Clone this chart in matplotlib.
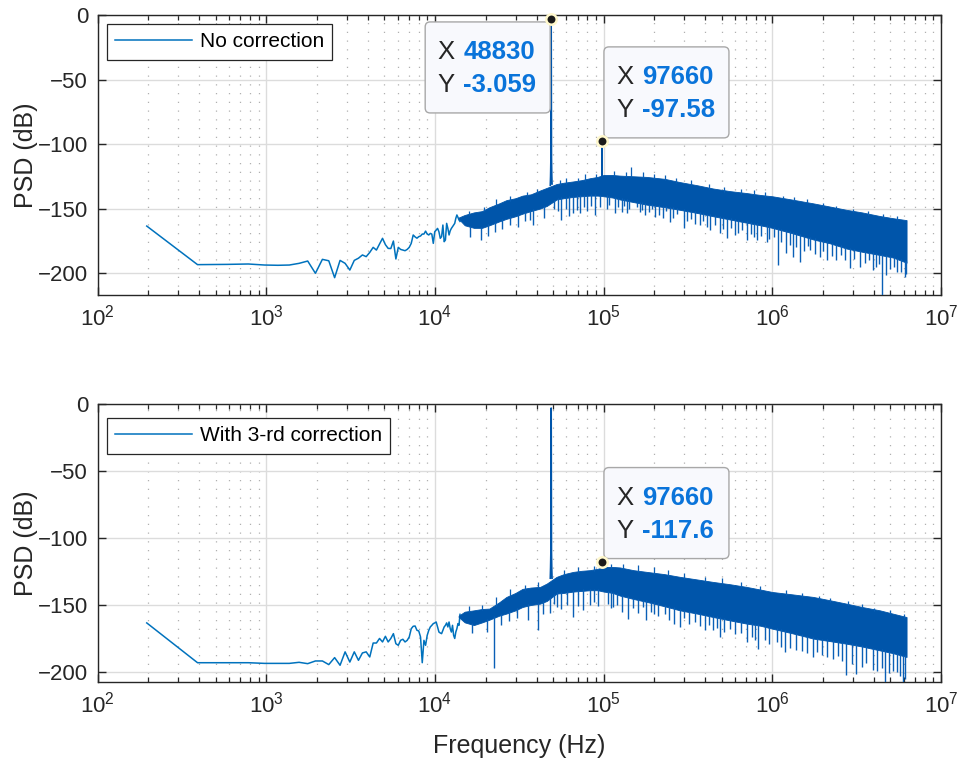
import numpy as np
import matplotlib
matplotlib.use('Agg')
import matplotlib.pyplot as plt
from matplotlib.patches import FancyBboxPatch
from matplotlib.transforms import IdentityTransform
from matplotlib.ticker import LogLocator, NullFormatter

plt.rcParams['font.family'] = ['Liberation Sans', 'DejaVu Sans']
plt.rcParams['mathtext.fontset'] = 'custom'
plt.rcParams['mathtext.rm'] = 'Liberation Sans'

# ---------------- data ----------------
DF = 195.3125                       # frequency bin spacing (Hz)
low_bins = np.arange(1, 73)         # resolvable low-frequency bins

psd_low_nocorr = [
    -163.6, -193.5, -193.3, -193.0, -193.8, -194.0, -193.8, -192.5, -190.7, -200.2,
    -189.4, -190.5, -203.6, -190.2, -192.5, -197.7, -190.2, -188.5, -186.0, -187.3,
    -184.0, -180.1, -182.2, -177.5, -173.1, -178.0, -180.9, -181.0, -175.2, -189.1,
    -180.1, -181.7, -182.2, -182.7, -181.7, -180.1, -177.0, -170.5, -172.0, -173.0,
    -171.8, -171.3, -169.8, -169.8, -167.5, -169.8, -170.5, -169.3, -169.8, -177.0,
    -168.0, -166.7, -165.4, -168.0, -173.1, -171.8, -162.8, -175.7, -174.4, -161.5,
    -165.4, -170.5, -167.2, -165.4, -164.1, -162.8, -161.5, -157.6, -155.0, -156.8,
    -158.9, -160.0]

psd_low_corr = [
    -163.4, -193.1, -193.1, -193.1, -193.6, -193.6, -193.6, -192.8, -193.8, -191.8,
    -191.8, -194.5, -189.3, -195.0, -185.0, -192.6, -185.0, -191.3, -185.8, -185.0,
    -188.8, -178.4, -178.4, -175.0, -177.6, -173.4, -177.6, -175.0, -171.4, -178.9,
    -180.1, -176.4, -175.6, -177.6, -176.4, -173.9, -167.7, -165.9, -165.7, -168.9,
    -169.4, -173.9, -193.1, -176.4, -180.1, -172.7, -168.9, -166.4, -165.2, -163.9,
    -163.4, -162.7, -166.4, -170.2, -170.9, -171.4, -168.9, -166.4, -165.2, -163.4,
    -166.4, -162.7, -167.7, -170.2, -165.2, -172.7, -175.0, -170.2, -167.7, -163.9,
    -165.2, -157.0]

# dense (unresolvable) part of the spectrum: upper and lower envelopes
band_freq = [13.8e3, 15e3, 17e3, 19e3, 21e3, 24e3, 26.5e3, 30e3, 33e3, 37e3,
             42e3, 46e3, 52.6e3, 58e3, 66e3, 74e3, 83e3, 92e3, 100e3, 113e3,
             125e3, 150e3, 180e3, 230e3, 283e3, 360e3, 446e3, 560e3, 703e3, 850e3,
             1.0e6, 1.3e6, 1.75e6, 2.2e6, 2.75e6, 3.4e6, 4.34e6, 5.2e6, 6.25e6]
nocorr_band_hi = [-157, -155, -153, -152, -149, -146, -143.5, -142, -140, -139,
                  -136, -134, -131, -130, -129, -128, -126.5, -125.5, -124, -124,
                  -124.5, -125, -125.5, -127, -129.5, -132, -134.5, -136.5, -138, -139.5,
                  -140.5, -143, -146, -148.5, -151, -153, -155.8, -157.5, -159]
nocorr_band_lo = [-158, -163, -165, -165, -163, -160, -158, -156, -154, -152,
                  -150, -148, -143, -142, -141, -140.5, -140, -140, -140.5, -141.5,
                  -143, -145, -147, -149, -151, -153.5, -156, -158.5, -161, -163,
                  -165, -169, -174, -177, -181, -183.5, -186, -188, -192]
corr_band_hi = [-158, -155, -154, -153, -152.7, -148, -144, -141, -138, -137,
                -136.5, -134, -129, -127, -125.3, -124.5, -124, -123, -121.6, -121.6,
                -122, -124, -125.3, -127, -129, -131, -132.8, -134.5, -136.5, -138.5,
                -140.3, -142, -144, -146.5, -149, -151.5, -154, -156.5, -159]
corr_band_lo = [-159, -163, -165, -163, -161, -158, -156.4, -154, -151.5, -150,
                -149, -147, -141.5, -141, -140, -139.5, -139, -139, -140, -141,
                -143, -145.5, -147.7, -151, -154, -156.5, -159, -161.5, -163.9, -165.5,
                -167.7, -171, -175.1, -177, -178.9, -181, -183.9, -186, -188.8]

# downward excursions below the dense band
nocorr_dip_freq = [16.2e3, 18.7e3, 20.6e3, 22.8e3, 25.1e3, 28.0e3, 31.2e3, 34.0e3, 36.5e3, 38.2e3,
                   44.0e3, 50.8e3, 53.5e3, 56.2e3, 59.5e3, 62.0e3, 65.9e3, 69.0e3, 72.3e3,
                   76.0e3, 79.5e3, 84.5e3, 88.7e3, 95.0e3, 104e3, 108e3, 116e3, 121e3,
                   127.6e3, 132e3, 136.7e3, 142e3, 158e3, 164e3, 169e3, 175e3, 186e3,
                   194e3, 201e3, 212e3, 224e3, 233e3, 247e3, 258e3, 272e3, 299e3, 310e3,
                   330e3, 350e3, 372e3, 390e3, 410e3, 427e3, 460e3, 488e3, 510e3, 535e3,
                   570e3, 600e3, 630e3, 660e3, 703e3, 750e3, 780e3, 806e3, 860e3, 925e3,
                   960e3, 1.02e6, 1.08e6, 1.13e6, 1.21e6, 1.27e6, 1.33e6, 1.39e6, 1.45e6,
                   1.55e6, 1.62e6, 1.67e6, 1.78e6, 1.91e6, 2.0e6, 2.10e6, 2.25e6, 2.40e6,
                   2.55e6, 2.7e6, 2.88e6, 3.05e6, 3.30e6, 3.55e6, 3.75e6, 3.96e6, 4.1e6,
                   4.3e6, 4.48e6, 4.75e6, 5.0e6, 5.25e6, 5.45e6, 5.8e6, 6.10e6, 6.2e6]
nocorr_dip_val = [-172, -174.4, -171, -168, -166, -163, -164, -160, -159, -162.8,
                  -157, -150, -152, -159.0, -150, -156, -153.7, -151, -153.7,
                  -149, -152, -148, -155.0, -149, -150, -147, -153.7, -149,
                  -152.5, -148, -153.7, -150, -149, -152.5, -151, -155.0, -153,
                  -150, -156.3, -155, -157.4, -152, -160.2, -157, -154, -165.4, -160,
                  -158, -162, -162.8, -160, -164, -166.7, -163, -169.2, -166, -173.1,
                  -165, -170.5, -169, -167, -174.4, -170, -172, -174.4, -171, -175.7,
                  -174, -172, -193.8, -176, -184.7, -178, -187.3, -180, -191.2,
                  -183, -179, -182.2, -185, -187.3, -183, -189.9, -187, -190.0,
                  -186, -190, -196.4, -189, -195.1, -192, -190, -197.7, -195,
                  -193, -225.0, -201.6, -197, -195, -199.0, -199, -202.9, -201]
corr_dip_freq = [16.5e3, 20.2e3, 22.4e3, 24.5e3, 27.5e3, 30.5e3, 35.5e3, 40.6e3, 43.5e3, 48.0e3,
                 51.0e3, 52.6e3, 56.0e3, 60.5e3, 66e3, 70.0e3, 75.0e3, 82.8e3, 88.0e3,
                 93.0e3, 106e3, 110e3, 114e3, 120e3, 128e3, 139.6e3, 150e3, 160e3, 171e3,
                 179e3, 190e3, 199e3, 210e3, 230e3, 245e3, 261e3, 283e3, 300e3, 320e3,
                 350e3, 370e3, 398e3, 420e3, 446e3, 470e3, 489e3, 520e3, 560e3, 600e3,
                 650e3, 703e3, 760e3, 790e3, 824e3, 900e3, 960e3, 1.06e6, 1.12e6, 1.19e6,
                 1.28e6, 1.39e6, 1.5e6, 1.6e6, 1.75e6, 1.85e6, 1.96e6, 2.1e6, 2.30e6,
                 2.45e6, 2.6e6, 2.75e6, 2.95e6, 3.15e6, 3.4e6, 3.6e6, 3.96e6, 4.2e6,
                 4.45e6, 4.65e6, 4.9e6, 5.2e6, 5.45e6, 5.7e6, 5.96e6, 6.15e6]
corr_dip_val = [-171, -170, -197.0, -165, -162, -160, -161, -169.0, -157, -156,
                -149, -151.5, -153, -150, -159.0, -151, -154, -149.7, -148,
                -151, -149, -152, -151.5, -150, -155, -160.2, -152, -156, -151.5,
                -161.4, -155, -156.4, -158, -157, -161, -163.9, -166.4, -160, -164,
                -163, -166, -168.9, -165, -168.9, -167, -173.9, -170, -168, -172,
                -171, -177.6, -174, -176, -182.6, -176, -179, -178, -181, -185.1,
                -182, -183.9, -184, -186, -188.8, -185, -187.6, -189, -190.1,
                -188, -192, -202.5, -194, -201.3, -196, -193, -198.8, -199,
                -197, -212.0, -201, -199, -200.0, -203, -212.0, -205]

# upward excursions above the dense band
nocorr_spike_freq = [16e3, 19.5e3, 23e3, 28e3, 35e3, 40e3, 55e3, 60e3, 70e3, 78e3, 90e3,
                     115e3, 135e3, 146e3, 170e3, 200e3, 230e3, 270e3, 330e3, 420e3, 520e3,
                     650e3, 780e3, 900e3, 1.15e6, 1.35e6, 1.6e6, 2.0e6, 2.4e6, 3e6, 3.7e6,
                     4.5e6, 5.5e6]
nocorr_spike_val = [-152, -149, -143, -140, -137, -135, -128, -126, -126, -123, -123,
                    -121, -122, -117.6, -122, -123, -124, -126, -128, -131, -133,
                    -135, -136, -137, -140, -141, -143, -146, -148, -150, -152,
                    -154, -156]
corr_spike_freq = [16e3, 19e3, 23e3, 28e3, 34e3, 41e3, 58e3, 70e3, 88e3, 110e3, 130.7e3,
                   160e3, 200e3, 240e3, 300e3, 400e3, 500e3, 650e3, 850e3, 1.2e6, 1.5e6,
                   1.9e6, 2.2e6, 2.8e6, 3.4e6, 4e6, 5e6, 6e6]
corr_spike_val = [-151, -150, -144, -138, -135, -133, -124, -122, -121, -119.5, -119.5,
                  -120, -122, -124, -126, -129, -130, -133, -136, -139, -141,
                  -143, -145, -147, -149, -152, -154, -157]

# tones
fund_bins = np.arange(247, 254)
nocorr_fund_val = [-132, -125, -112, -3.059, -110, -124, -131]
corr_fund_val = [-130, -122, -110, -3.06, -110, -123, -130]
harm_bins = np.arange(499, 502)
nocorr_harm_val = [-126, -97.58, -126]
corr_harm_val = [-125, -117.6, -125]

# data tips: (frequency, value, x text, y text, placement)
nocorr_tips = [(48830, -3.059, '48830', '-3.059', 'lower left'),
               (97660, -97.58, '97660', '-97.58', 'upper right')]
corr_tips = [(97660, -117.6, '97660', '-117.6', 'upper right')]

xticks = [1e2, 1e3, 1e4, 1e5, 1e6, 1e7]
yticks = [-200, -150, -100, -50, 0]

# ---------------- styling ----------------
LINE = '#0072BD'
BAND = '#0055AA'
DIP = '#0A5FB6'
AXC = '#262626'

fig = plt.figure(figsize=(9.6, 7.61), dpi=100)
ax1 = fig.add_axes([0.1018, 0.6124, 0.8784, 0.3679])
ax2 = fig.add_axes([0.1018, 0.1038, 0.8784, 0.3653])


def draw_panel(ax, low, bhi, blo, dipf, dipv, spf, spv, fundv, harmv, ylim, label, legy):
    ax.set_xscale('log')
    ax.set_xlim(1e2, 1e7)
    ax.set_ylim(*ylim)
    lf = low_bins * DF
    ax.plot(lf, low, color=LINE, lw=1.1, zorder=3, label=label)
    ax.fill_between(band_freq, blo, bhi, color=BAND, lw=0.6, edgecolor=BAND, zorder=3)
    lb = np.log10(band_freq)
    dtop = np.interp(np.log10(dipf), lb, blo) + 1
    ax.vlines(dipf, dipv, dtop, color=DIP, lw=1.0, zorder=3)
    sbot = np.interp(np.log10(spf), lb, bhi) - 1
    ax.vlines(spf, sbot, spv, color=DIP, lw=0.9, zorder=3)
    ax.plot(fund_bins * DF, fundv, color=BAND, lw=1.2, zorder=3)
    ax.plot(harm_bins * DF, harmv, color=BAND, lw=1.0, zorder=3)
    ax.xaxis.set_major_locator(LogLocator(base=10, numticks=10))
    ax.xaxis.set_minor_locator(LogLocator(base=10, subs=np.arange(2, 10), numticks=100))
    ax.xaxis.set_minor_formatter(NullFormatter())
    ax.set_xticks(xticks)
    ax.set_yticks(yticks)
    ax.tick_params(which='both', direction='in', top=True, right=True, color=AXC)
    ax.tick_params(which='major', length=6, width=1.0, pad=7, labelsize=16, labelcolor=AXC)
    ax.tick_params(which='minor', length=3.5, width=0.9)
    ax.grid(True, which='major', color='#DCDCDC', lw=1.0)
    ax.grid(True, which='minor', axis='x', color='#B0B0B0', lw=0.9, linestyle=(0, (1, 6)))
    ax.set_axisbelow(True)
    for s in ax.spines.values():
        s.set_color(AXC)
        s.set_linewidth(1.0)
    ax.set_ylabel('PSD (dB)', fontsize=18, color=AXC, labelpad=0)
    leg = ax.legend(loc='upper left', bbox_to_anchor=(0.011, legy),
                    borderaxespad=0, fontsize=15, fancybox=False, handlelength=3.7,
                    handletextpad=0.35, borderpad=0.4, framealpha=1)
    leg.get_frame().set_edgecolor(AXC)
    leg.get_frame().set_linewidth(0.9)
    for t in leg.get_texts():
        t.set_color('#000000')


def datatip(ax, f, v, xs, ys, side):
    mx, my = ax.transData.transform((f, v))
    w, h = 125, 91
    if side == 'upper right':
        left, bottom = mx + 2, my + 3
    else:
        left, bottom = mx - 1 - w, my - 3 - h
    top = bottom + h
    box = FancyBboxPatch((left, bottom), w, h, boxstyle='round,pad=0,rounding_size=5',
                         transform=IdentityTransform(), fc='#F8F9FD', ec='#A8A8A8',
                         lw=1.0, zorder=7, clip_on=False)
    ax.add_artist(box)
    for dy, lab, val in ((30.5, 'X', xs), (63, 'Y', ys)):
        ax.text(left + 12, top - dy, lab, transform=IdentityTransform(), fontsize=18.5,
                color='#262626', va='center', ha='left', zorder=8, clip_on=False)
        ax.text(left + 38, top - dy, val, transform=IdentityTransform(), fontsize=18.5,
                color='#0A74DA', fontweight='bold', va='center', ha='left', zorder=8,
                clip_on=False)
    ax.plot([f], [v], 'o', ms=7.5, mfc='#1A1A1A', mec='#FFF8CC', mew=1.8, zorder=9,
            clip_on=False)


draw_panel(ax1, psd_low_nocorr, nocorr_band_hi, nocorr_band_lo, nocorr_dip_freq,
           nocorr_dip_val, nocorr_spike_freq, nocorr_spike_val, nocorr_fund_val,
           nocorr_harm_val, (-217, 0), 'No correction', 0.968)
draw_panel(ax2, psd_low_corr, corr_band_hi, corr_band_lo, corr_dip_freq, corr_dip_val,
           corr_spike_freq, corr_spike_val, corr_fund_val, corr_harm_val, (-207.5, 0),
           'With 3-rd correction', 0.950)
ax2.set_xlabel('Frequency (Hz)', fontsize=18, color=AXC, labelpad=12)

for f, v, xs, ys, side in nocorr_tips:
    datatip(ax1, f, v, xs, ys, side)
for f, v, xs, ys, side in corr_tips:
    datatip(ax2, f, v, xs, ys, side)

fig.savefig('out.png', dpi=100)
